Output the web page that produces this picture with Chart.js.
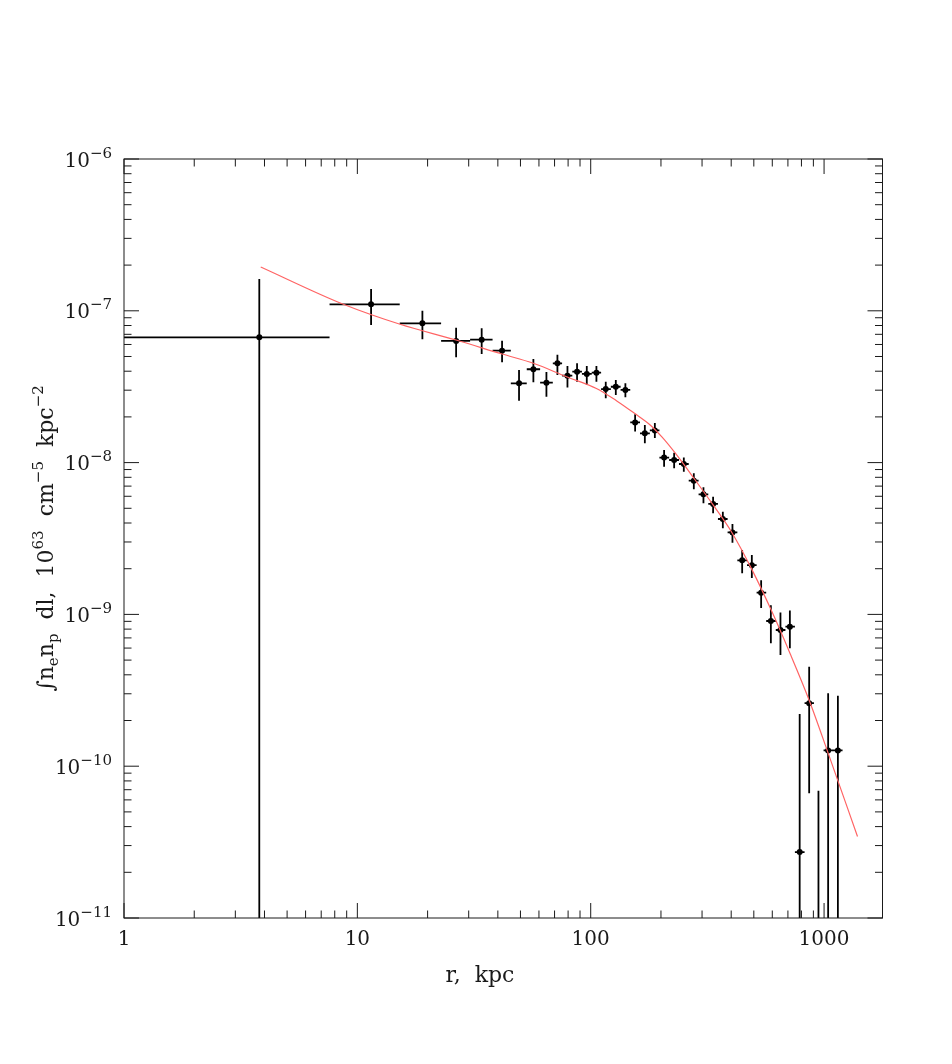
<!DOCTYPE html>
<html>
<head>
<meta charset="utf-8">
<script src="https://cdn.jsdelivr.net/npm/chart.js@4.4.1/dist/chart.umd.min.js"></script>
<style>
  html, body { margin: 0; padding: 0; background: #fff; }
  #wrap { width: 952px; height: 1064px; }
</style>
</head>
<body>
<div id="wrap"><canvas id="chart" width="952" height="1064"></canvas></div>
<script>
// --- DATA ---
const radius = [3.80, 11.45, 19.0, 26.5, 34.1, 41.7, 49.3, 56.8, 64.6, 72.0,
    79.5, 87.4, 96.2, 105.8, 116, 128.1, 140.8, 155, 170.6, 188.3,
    206.3, 227.8, 250.6, 276.6, 304.2, 334.6, 368.3, 405, 445.7, 490.3,
    537.5, 591.6, 650.4, 713.6, 786.1, 863.3, 946.2, 1041, 1146];
// contiguous radial bins: bin i spans binEdges[i] .. binEdges[i+1]
const binEdges = [0.02, 7.60, 15.19, 22.85, 30.42, 37.97, 45.46, 53.2, 60.7, 68.8,
    75.4, 83.4, 91.7, 101, 110.8, 122, 134.3, 147.7, 162.6, 179.2,
    197, 216.8, 238.9, 263, 289.9, 319, 351, 386, 425, 467.5,
    514, 565, 621, 683, 750, 825, 905, 995, 1093, 1200];
const emission = [6.69e-8, 1.104e-7, 8.27e-8, 6.33e-8, 6.45e-8, 5.46e-8, 3.33e-8, 4.12e-8, 3.36e-8, 4.51e-8,
    3.74e-8, 3.97e-8, 3.84e-8, 3.91e-8, 3.05e-8, 3.16e-8, 3.01e-8, 1.84e-8, 1.56e-8, 1.63e-8,
    1.08e-8, 1.04e-8, 9.79e-9, 7.60e-9, 6.18e-9, 5.34e-9, 4.25e-9, 3.47e-9, 2.27e-9, 2.11e-9,
    1.39e-9, 9.05e-10, 7.89e-10, 8.30e-10, 2.72e-11, 2.60e-10, 5e-12, 1.27e-10, 1.27e-10];
const emissionHi = [1.62e-7, 1.392e-7, 1.0e-7, 7.74e-8, 7.67e-8, 6.35e-8, 4.07e-8, 4.81e-8, 3.95e-8, 5.14e-8,
    4.33e-8, 4.51e-8, 4.33e-8, 4.33e-8, 3.41e-8, 3.50e-8, 3.33e-8, 2.08e-8, 1.77e-8, 1.82e-8,
    1.21e-8, 1.16e-8, 1.08e-8, 8.50e-9, 6.88e-9, 5.96e-9, 4.75e-9, 3.94e-9, 2.66e-9, 2.46e-9,
    1.68e-9, 1.15e-9, 1.03e-9, 1.06e-9, 2.21e-10, 4.52e-10, 6.9e-11, 3.02e-10, 2.91e-10];
const emissionLo = [1e-13, 8.06e-8, 6.49e-8, 4.94e-8, 5.19e-8, 4.58e-8, 2.56e-8, 3.38e-8, 2.72e-8, 3.78e-8,
    3.13e-8, 3.41e-8, 3.24e-8, 3.41e-8, 2.65e-8, 2.79e-8, 2.69e-8, 1.60e-8, 1.34e-8, 1.45e-8,
    9.40e-9, 9.17e-9, 8.71e-9, 6.67e-9, 5.39e-9, 4.63e-9, 3.69e-9, 2.97e-9, 1.87e-9, 1.74e-9,
    1.10e-9, 6.45e-10, 5.40e-10, 5.98e-10, 1e-13, 6.63e-11, 1e-13, 1e-13, 1e-13];

const modelRadius = [3.854, 8.71, 15.24, 26.49, 41.71, 56.8, 78.8, 105.8, 129.8, 153.5,
    179.8, 202.3, 230.0, 280.3, 334.6, 403.7, 490.3, 591.6, 715.7, 863.3, 1041, 1391];
const modelEmission = [1.943e-7, 1.104e-7, 8.15e-8, 6.42e-8, 5.19e-8, 4.51e-8, 3.68e-8, 3.08e-8, 2.54e-8, 2.12e-8,
    1.77e-8, 1.47e-8, 1.157e-8, 7.68e-9, 5.26e-9, 3.44e-9, 1.98e-9, 1.08e-9, 5.51e-10, 2.72e-10, 1.22e-10, 3.44e-11];

const xTicks = [1, 10, 100, 1000];
const xTickLabels = ['1', '10', '100', '1000'];
const yTicks = [1e-11, 1e-10, 1e-9, 1e-8, 1e-7, 1e-6];
const yTickExponents = ['−11', '−10', '−9', '−8', '−7', '−6'];

// --- STYLE ---
const FONT = 'DejaVu Serif';
const INK = '#1a1a1a';

// --- HELPERS ---
// text runs with sub/superscripts
function richWidth(ctx, parts, big, small) {
    return parts.reduce((w, p) => {
        ctx.font = `${p.s ? small : big}px "${FONT}"`;
        return w + ctx.measureText(p.t).width;
    }, 0);
}
function drawRich(ctx, parts, x, y, big, small) {
    let cx = x;
    parts.forEach(p => {
        ctx.font = `${p.s ? small : big}px "${FONT}"`;
        const dy = p.s === 'sub' ? 5 : (p.s === 'sup' ? -Math.round(big * 0.45) : 0);
        ctx.fillText(p.t, cx, y + dy);
        cx += ctx.measureText(p.t).width;
    });
}

// --- PLUGINS ---
// frame + inward ticks on all four sides
const frameTicks = {
    id: 'frameTicks',
    afterDraw(chart) {
        const { ctx, chartArea: a, scales: { x, y } } = chart;
        ctx.save();
        ctx.strokeStyle = INK;
        ctx.lineWidth = 1;
        ctx.strokeRect(a.left, a.top, a.right - a.left, a.bottom - a.top);
        ctx.beginPath();
        for (let d = 1; d <= 1000; d *= 10) {
            for (let k = 1; k <= 9; k++) {
                const v = d * k;
                if (v > x.max) break;
                const px = x.getPixelForValue(v);
                const len = k === 1 ? 15 : 7.5;
                ctx.moveTo(px, a.bottom); ctx.lineTo(px, a.bottom - len);
                ctx.moveTo(px, a.top); ctx.lineTo(px, a.top + len);
            }
        }
        for (let e = -11; e <= -6; e++) {
            for (let k = 1; k <= 9; k++) {
                const v = k * Math.pow(10, e);
                if (v > y.max * 1.0001) break;
                const py = y.getPixelForValue(v);
                const len = k === 1 ? 15 : 7.5;
                ctx.moveTo(a.left, py); ctx.lineTo(a.left + len, py);
                ctx.moveTo(a.right, py); ctx.lineTo(a.right - len, py);
            }
        }
        ctx.stroke();
        ctx.restore();
    }
};

// error bars from the data arrays, through the chart scales
const errorBars = {
    id: 'errorBars',
    beforeDatasetsDraw(chart) {
        const { ctx, chartArea: a, scales: { x, y } } = chart;
        ctx.save();
        ctx.beginPath();
        ctx.rect(a.left, a.top, a.right - a.left, a.bottom - a.top);
        ctx.clip();
        ctx.strokeStyle = '#000';
        ctx.lineWidth = 1.8;
        ctx.beginPath();
        radius.forEach((r, i) => {
            const px = x.getPixelForValue(r);
            const py = y.getPixelForValue(emission[i]);
            const x0 = Math.max(x.getPixelForValue(binEdges[i]), a.left - 5);
            const x1 = x.getPixelForValue(binEdges[i + 1]);
            const yTop = y.getPixelForValue(emissionHi[i]);
            const yBot = Math.min(y.getPixelForValue(emissionLo[i]), a.bottom + 5);
            ctx.moveTo(x0, py); ctx.lineTo(x1, py);
            ctx.moveTo(px, yTop); ctx.lineTo(px, yBot);
        });
        ctx.stroke();
        ctx.restore();
    }
};

// y tick labels (10 with raised exponent) and axis titles
const axisText = {
    id: 'axisText',
    afterDraw(chart) {
        const { ctx, chartArea: a, scales: { y } } = chart;
        ctx.save();
        ctx.fillStyle = INK;
        ctx.textBaseline = 'alphabetic';
        ctx.textAlign = 'left';

        yTicks.forEach((v, i) => {
            const parts = [{ t: '10' }, { t: yTickExponents[i], s: 'sup' }];
            const w = richWidth(ctx, parts, 20, 15);
            drawRich(ctx, parts, 112 - w, y.getPixelForValue(v) + 7.5, 20, 15);
        });

        ctx.font = `22px "${FONT}"`;
        const xt = 'r,  kpc';
        ctx.fillText(xt, 480 - ctx.measureText(xt).width / 2, 982);

        const title = [
            { t: '∫' }, { t: 'n' }, { t: 'e', s: 'sub' }, { t: 'n' }, { t: 'p', s: 'sub' },
            { t: '  dl,  10' }, { t: '63', s: 'sup' }, { t: '  cm' }, { t: '−5', s: 'sup' },
            { t: '  kpc' }, { t: '−2', s: 'sup' }
        ];
        const tw = richWidth(ctx, title, 22, 15);
        const cy = (a.top + a.bottom) / 2;
        ctx.translate(53, cy + tw / 2);
        ctx.rotate(-Math.PI / 2);
        drawRich(ctx, title, 0, 0, 22, 15);
        ctx.restore();
    }
};

// --- CHART ---
const tickFont = { family: FONT, size: 20 };
const ctx = document.getElementById('chart').getContext('2d');
new Chart(ctx, {
    type: 'scatter',
    data: {
        datasets: [
            {
                label: 'model',
                data: modelRadius.map((r, i) => ({ x: r, y: modelEmission[i] })),
                showLine: true,
                borderColor: '#ff6464',
                borderWidth: 1.2,
                pointRadius: 0,
                cubicInterpolationMode: 'monotone',
                order: 1,
            },
            {
                label: 'data',
                data: radius.map((r, i) => ({ x: r, y: emission[i] })),
                pointRadius: 3,
                pointBackgroundColor: '#000',
                pointBorderWidth: 0,
                order: 2,
            }
        ]
    },
    options: {
        responsive: false,
        animation: false,
        layout: { padding: { top: 159, right: 69.5, left: 0, bottom: 0 } },
        plugins: { legend: { display: false }, tooltip: { enabled: false } },
        scales: {
            x: {
                type: 'logarithmic', min: 1, max: 1780,
                grid: { display: false, drawTicks: false },
                border: { display: false },
                afterBuildTicks: s => { s.ticks = xTicks.map(v => ({ value: v })); },
                afterFit: s => { s.height = 146; },
                ticks: { font: tickFont, color: INK, padding: 10, maxRotation: 0, autoSkip: false,
                    callback: (v, i) => xTickLabels[i] }
            },
            y: {
                type: 'logarithmic', min: 1e-11, max: 1e-6,
                grid: { display: false, drawTicks: false },
                border: { display: false },
                afterBuildTicks: s => { s.ticks = yTicks.map(v => ({ value: v })); },
                afterFit: s => { s.width = 124; },
                ticks: { display: false }
            }
        }
    },
    plugins: [errorBars, frameTicks, axisText]
});
</script>
</body>
</html>
